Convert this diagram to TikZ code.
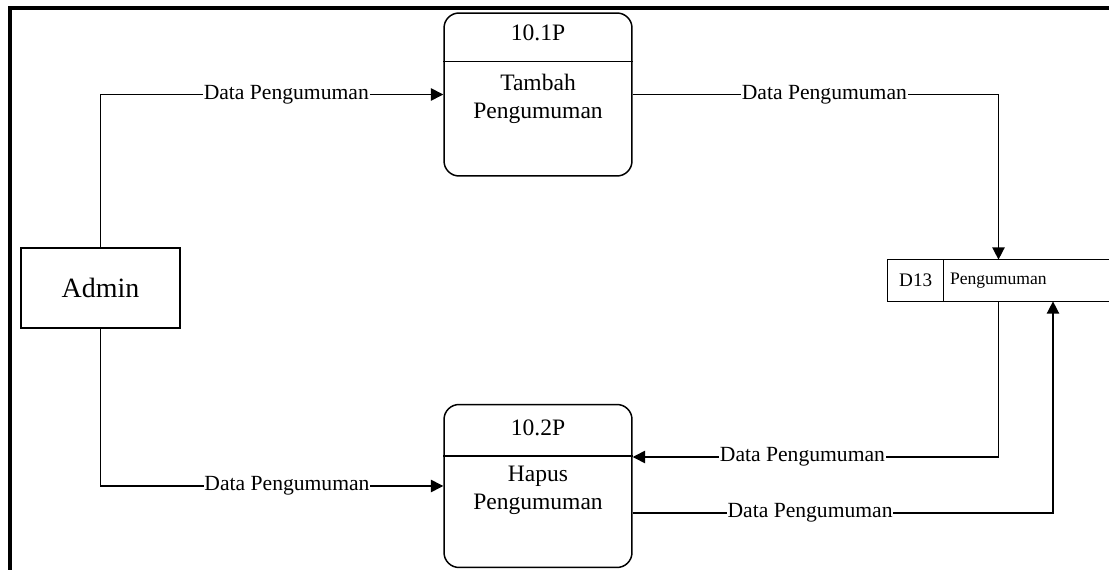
\documentclass[tikz,border=0pt]{standalone}
\usepackage{fontspec}
\setmainfont{Liberation Serif}
\usetikzlibrary{arrows.meta}

\begin{document}
\begin{tikzpicture}[x=0.02cm, y=-0.02cm,
  proc/.style={rectangle, draw, line width=0.85pt, rounded corners=0.3cm, minimum width=3.76cm, minimum height=3.26cm, inner sep=0pt},
  entity/.style={rectangle, draw, line width=0.85pt, minimum width=3.18cm, minimum height=1.6cm, font=\fontsize{15.9}{18}\selectfont},
  flow/.style={line width=0.85pt, -{Triangle[length=7pt,width=7pt]}},
  flowlabel/.style={fill=white, inner sep=0.5pt, font=\fontsize{12.3}{14}\selectfont},
  proctext/.style={align=center, font=\fontsize{13.4}{16}\selectfont}]
\useasboundingbox (0,0) rectangle (1109,570);
% frame
\draw[line width=2.3pt] (10,570) -- (10,8) -- (1109,8);
% nodes
\node[entity] (admin) at (100.5,288) {Admin};
\node[proc] (p1) at (538,94.5) {};
\node[proctext] (p1id) at ([yshift=-0.42cm]p1.north) {10.1P};
\node[proctext] (p1txt) at ([yshift=-1.74cm]p1.north) {Tambah\\Pengumuman};
\draw[line width=0.85pt] ([yshift=-0.98cm]p1.north west) -- ([yshift=-0.98cm]p1.north east);
\node[proc] (p2) at (538,486) {};
\node[proctext] (p2id) at ([yshift=-0.48cm]p2.north) {10.2P};
\node[proctext] (p2txt) at ([yshift=-1.73cm]p2.north) {Hapus\\Pengumuman};
\draw[line width=0.85pt] ([yshift=-1.04cm]p2.north west) -- ([yshift=-1.04cm]p2.north east);
% data store
\node[minimum width=4.42cm, minimum height=0.82cm, inner sep=0pt] (store) at (998.5,280.5) {};
\draw[line width=0.85pt] (store.north east) -- (store.north west) -- (store.south west) -- (store.south east);
\draw[line width=0.85pt] ([xshift=1.12cm]store.north west) -- ([xshift=1.12cm]store.south west);
\node[font=\fontsize{10.9}{13}\selectfont] (storeid) at ([xshift=0.56cm]store.west) {D13};
\node[anchor=west, inner sep=0pt, font=\fontsize{10}{12}\selectfont] (storename) at ([xshift=1.24cm]store.west) {Pengumuman};
% flows
\coordinate (p2in) at ([yshift=0.58cm]p2.east);
\coordinate (p2out) at ([yshift=-0.54cm]p2.east);
\coordinate (storein) at ([xshift=1.09cm]store.south);
\draw[flow] (admin.north) |- (p1.west) node[flowlabel, pos=0.771] {Data Pengumuman};
\draw[flow] (p1.east) -| (store.north) node[flowlabel, pos=0.262] {Data Pengumuman};
\draw[flow] (admin.south) |- (p2.west) node[flowlabel, pos=0.772] {Data Pengumuman};
\draw[flow] (store.south) |- (p2in) node[flowlabel, pos=0.768] {Data Pengumuman};
\draw[flow] (p2out) -| (storein) node[flowlabel, pos=0.211] {Data Pengumuman};
\end{tikzpicture}
\end{document}
